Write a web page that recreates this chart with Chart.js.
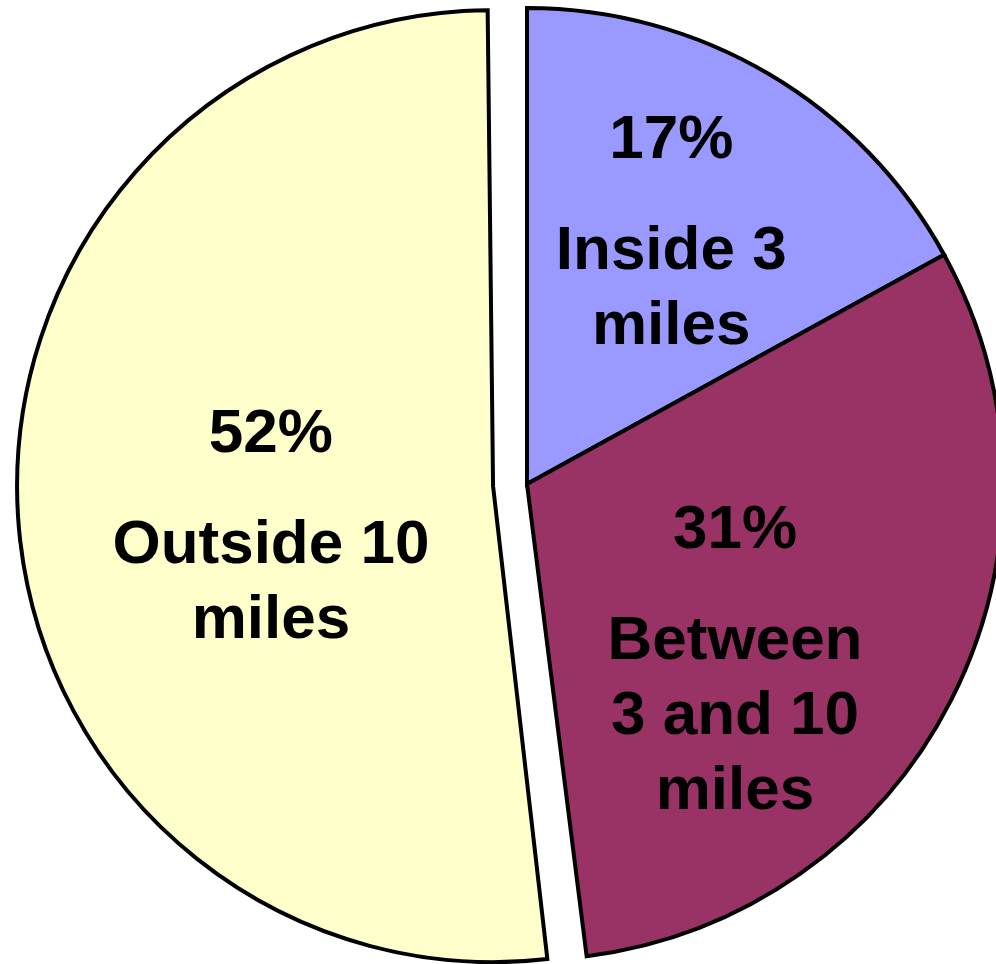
<!DOCTYPE html>
<html>
<head>
<meta charset="utf-8">
<script src="https://cdn.jsdelivr.net/npm/chart.js@4/dist/chart.umd.min.js"></script>
<style>
  html, body { margin: 0; padding: 0; background: #fff; }
  canvas { display: block; }
</style>
</head>
<body>
<canvas id="pie" width="996" height="964"></canvas>
<script>
// chart values (clockwise from 12 o'clock)
const categories = ['Inside 3 miles', 'Between 3 and 10 miles', 'Outside 10 miles'];
const shares = [17, 31, 52];
const labelLines = [['Inside 3', 'miles'], ['Between', '3 and 10', 'miles'], ['Outside 10', 'miles']];

const sliceColors = ['#9999ff', '#993366', '#ffffcc'];
// Chart.js moves an arc by offset/4, so 136 -> ~34px of explosion
const sliceOffsets = [0, 0, 136];
// label anchor (centre x, first baseline) as a fraction of the radius from the pie centre
const labelAnchors = [[0.303, -0.685], [0.437, 0.134], [-0.538, -0.067]];

// v4 also grows an exploded arc wider than a half circle by offset/4; undo that
const keepRadius = {
  id: 'keepRadius',
  beforeDatasetsDraw(chart) {
    const meta = chart.getDatasetMeta(0);
    meta.data.forEach((arc, i) => {
      if (sliceOffsets[i] && arc.circumference >= Math.PI) {
        arc.outerRadius = meta.controller.outerRadius - sliceOffsets[i] / 4;
      }
    });
  }
};

const sliceLabels = {
  id: 'sliceLabels',
  afterDatasetsDraw(chart) {
    const ctx = chart.ctx;
    const meta = chart.getDatasetMeta(0);
    const r = meta.controller.outerRadius;
    ctx.save();
    ctx.fillStyle = '#000';
    ctx.textAlign = 'center';
    ctx.textBaseline = 'alphabetic';
    ctx.font = 'bold 62px "Liberation Sans", Arial, sans-serif';
    meta.data.forEach((arc, i) => {
      const x = arc.x + labelAnchors[i][0] * r;
      let y = arc.y + labelAnchors[i][1] * r;
      ctx.fillText(shares[i] + '%', x, y);
      y += 111;
      labelLines[i].forEach(line => {
        ctx.fillText(line, x, y);
        y += 75;
      });
    });
    ctx.restore();
  }
};

new Chart(document.getElementById('pie'), {
  type: 'pie',
  data: {
    labels: categories,
    datasets: [{
      data: shares,
      backgroundColor: sliceColors,
      borderColor: '#000',
      borderWidth: 4,
      borderJoinStyle: 'miter',
      offset: sliceOffsets,
      hoverOffset: 0,
      clip: false
    }]
  },
  options: {
    responsive: false,
    animation: false,
    radius: 476,
    layout: { padding: { left: 58, right: 0, top: 4, bottom: 0 } },
    plugins: {
      legend: { display: false },
      tooltip: { enabled: false }
    }
  },
  plugins: [keepRadius, sliceLabels]
});
</script>
</body>
</html>
